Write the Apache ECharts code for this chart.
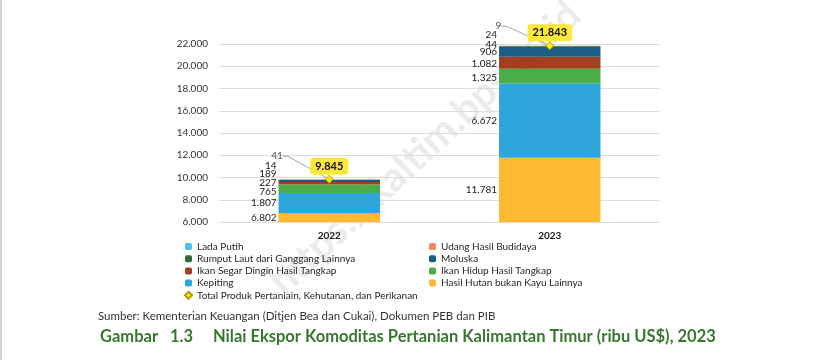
<!DOCTYPE html>
<html><head><meta charset="utf-8">
<script src="https://cdn.jsdelivr.net/npm/echarts@6/dist/echarts.min.js"></script>
<style>html,body{margin:0;padding:0;background:#fff}#c{width:834px;height:360px}</style>
</head><body><div id="c"></div>
<script>
// ---- data ----
const categories = ['2022', '2023'];
const hasilHutan = [6802, 11781];
const kepiting   = [1807, 6672];
const ikanHidup  = [765, 1325];
const ikanSegar  = [227, 1082];
const moluska    = [189, 906];
const rumputLaut = [14, 44];
const udang      = [41, 24];
const ladaPutih  = [null, 9];
const totals     = [9845, 21843];
const yMin = 6000, yMax = 22000, yStep = 2000;

const totalName = 'Total Produk Pertaniain, Kehutanan, dan Perikanan';
// stacking order, bottom -> top
const stackSeries = [
  { name: 'Hasil Hutan bukan Kayu Lainnya', data: hasilHutan, color: '#FDB92F' },
  { name: 'Kepiting', data: kepiting, color: '#2EA6DB' },
  { name: 'Ikan Hidup Hasil Tangkap', data: ikanHidup, color: '#4BAD4A' },
  { name: 'Ikan Segar Dingin Hasil Tangkap', data: ikanSegar, color: '#A0401D' },
  { name: 'Moluska', data: moluska, color: '#1C5D85' },
  { name: 'Rumput Laut dari Ganggang Lainnya', data: rumputLaut, color: '#2F6A2E' },
  { name: 'Udang Hasil Budidaya', data: udang, color: '#F4885A' },
  { name: 'Lada Putih', data: ladaPutih, color: '#4DC3EF' }
];

// label vertical nudges (style), per category
const labelShift = {
  'Ikan Hidup Hasil Tangkap': [3, 2],
  'Ikan Segar Dingin Hasil Tangkap': [0, 1.5],
  'Moluska': [-7, 0],
  'Rumput Laut dari Ganggang Lainnya': [-14, -2],
  'Udang Hasil Budidaya': [-23, -11]
};
const leaderShift = { dx: [-46, -48], dy: [-23, -19.5] };

// topmost non-empty series per category gets a leader-line label
const topIdx = categories.map((c, i) => {
  let t = -1;
  stackSeries.forEach((s, k) => { if (s.data[i] != null) t = k; });
  return t;
});

const fmt = v => String(v).replace(/\B(?=(\d{3})+(?!\d))/g, '.');
const FONT = 'Lato';

const series = stackSeries.map((s, k) => ({
  name: s.name, type: 'bar', stack: 'total', data: s.data,
  barWidth: '46%',
  itemStyle: { color: s.color },
  label: {
    show: true, position: 'left', distance: 2,
    fontFamily: FONT, fontSize: 10, color: '#1a1a1a',
    formatter: p => (topIdx[p.dataIndex] === k ? '' : fmt(p.value))
  },
  labelLayout: p => ({ dy: (labelShift[s.name] || [0, 0])[p.dataIndex] }),
  emphasis: { disabled: true }
}));

series.push({
  name: '__leader', type: 'scatter', data: totals,
  symbol: 'circle', symbolSize: 1, itemStyle: { color: 'rgba(0,0,0,0)' },
  z: 3,
  label: {
    show: true, position: 'left', distance: 0,
    fontFamily: FONT, fontSize: 10, color: '#1a1a1a',
    formatter: p => fmt(stackSeries[topIdx[p.dataIndex]].data[p.dataIndex])
  },
  labelLine: { show: true, length2: 5, lineStyle: { color: '#A6A6A6', width: 1 } },
  labelLayout: p => ({ dx: leaderShift.dx[p.dataIndex], dy: leaderShift.dy[p.dataIndex] }),
  emphasis: { disabled: true }
});

series.push({
  name: totalName, type: 'line', data: totals,
  symbol: 'diamond', symbolSize: 8,
  lineStyle: { width: 0, opacity: 0 },
  itemStyle: { color: '#FFF200', borderColor: '#B59B00', borderWidth: 1 },
  z: 5,
  label: {
    show: true, position: 'top', distance: 0,
    backgroundColor: '#FFE83B', borderRadius: 3, padding: [3, 5, 3, 5],
    fontFamily: FONT, fontSize: 11, fontWeight: 'bold', color: '#111',
    formatter: p => fmt(p.value)
  },
  emphasis: { disabled: true }
});

const legendText = { fontFamily: FONT, fontSize: 10, color: '#262626', lineHeight: 10 };
const option = {
  animation: false,
  backgroundColor: '#fff',
  grid: { left: 219, top: 44, width: 441, height: 178 },
  xAxis: {
    type: 'category', data: categories,
    axisLine: { show: false }, axisTick: { show: false },
    axisLabel: { fontFamily: FONT, fontSize: 10, fontWeight: 'bold', color: '#1a1a1a', margin: 9 }
  },
  yAxis: {
    type: 'value', min: yMin, max: yMax, interval: yStep,
    axisLine: { show: false }, axisTick: { show: false },
    splitLine: { lineStyle: { color: '#DCDCDC', width: 1 } },
    axisLabel: { fontFamily: FONT, fontSize: 10, color: '#333', margin: 11, formatter: v => fmt(v) }
  },
  legend: [
    {
      orient: 'vertical', left: 179, top: 236.5, itemWidth: 7, itemHeight: 7, itemGap: 2.2,
      textStyle: legendText, selectedMode: false,
      data: ['Lada Putih', 'Rumput Laut dari Ganggang Lainnya', 'Ikan Segar Dingin Hasil Tangkap', 'Kepiting',
             { name: totalName, icon: 'diamond' }]
    },
    {
      orient: 'vertical', left: 424, top: 236.5, itemWidth: 7, itemHeight: 7, itemGap: 2.2,
      textStyle: legendText, selectedMode: false,
      data: ['Udang Hasil Budidaya', 'Moluska', 'Ikan Hidup Hasil Tangkap', 'Hasil Hutan bukan Kayu Lainnya']
    }
  ],
  graphic: [
    { type: 'rect', left: 0, top: 0, shape: { width: 2, height: 360 }, style: { fill: '#D2D2D2' }, silent: true },
    { type: 'text', x: 425, y: 148, rotation: 0.75, z: -10, silent: true,
      style: { text: 'https://kaltim.bps.go.id', font: 'bold 40px Lato', fill: '#EBEBEB', align: 'center', verticalAlign: 'middle' } },
    { type: 'text', x: 98, y: 316, silent: true,
      style: { text: 'Sumber: Kementerian Keuangan (Ditjen Bea dan Cukai), Dokumen PEB dan PIB', font: '11.5px Lato', fill: '#333', verticalAlign: 'middle' } },
    { type: 'text', x: 100, y: 337, silent: true,
      style: { text: 'Gambar', font: 'bold 16.5px Lato', fill: '#37782F', verticalAlign: 'middle' } },
    { type: 'text', x: 170, y: 337, silent: true,
      style: { text: '1.3', font: 'bold 16.5px Lato', fill: '#37782F', verticalAlign: 'middle' } },
    { type: 'text', x: 213, y: 337, silent: true,
      style: { text: 'Nilai Ekspor Komoditas Pertanian Kalimantan Timur (ribu US$), 2023', font: 'bold 16.5px Lato', fill: '#37782F', verticalAlign: 'middle' } }
  ],
  series: series
};
const chart = echarts.init(document.getElementById('c'), null, { renderer: 'canvas' });
chart.setOption(option);
</script>
</body></html>
